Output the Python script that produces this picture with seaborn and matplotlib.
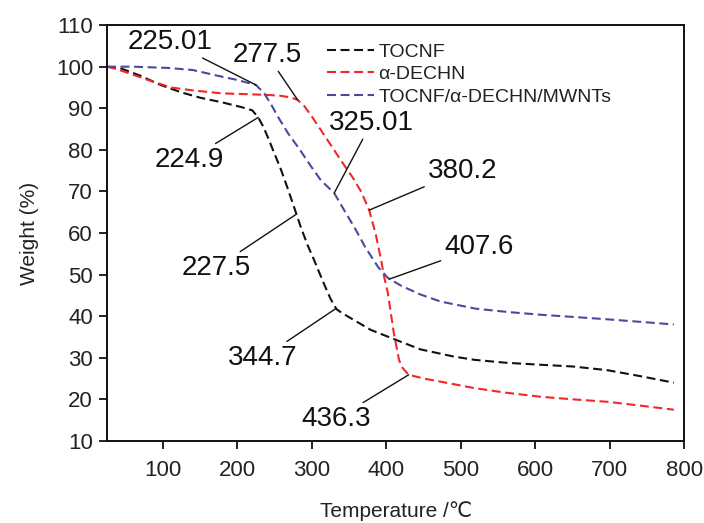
import matplotlib
matplotlib.use("Agg")
import matplotlib.pyplot as plt
import seaborn as sns

# TGA curves
temp_tocnf = [25, 42, 70, 97, 125, 151, 180, 205, 220, 228, 235, 241, 250, 258, 267,
              276, 285, 294, 303, 315, 325, 333, 340, 360, 379, 410, 446, 490, 518,
              560, 608, 650, 697, 740, 786]
weight_tocnf = [100, 99.7, 97.8, 95.6, 93.8, 92.5, 91.4, 90.3, 89.5, 87.8, 85.5, 83, 79,
                75.5, 71, 66.3, 61.5, 57.2, 53.5, 48.3, 44.2, 41.7, 40.8, 38.7, 36.7, 34.5,
                32, 30.3, 29.5, 28.8, 28.3, 27.9, 27, 25.6, 24]

temp_dechn = [25, 40, 61, 85, 111, 140, 178, 210, 241, 258, 272, 281, 290, 300, 312,
              326, 340, 355, 366, 377, 386, 393, 397, 402, 410, 417, 422, 430, 450,
              480, 518, 560, 608, 650, 697, 740, 786]
weight_dechn = [100, 99.3, 98, 96.5, 95, 94.3, 93.6, 93.4, 93.2, 93, 92.6, 92, 90.5, 88,
                84.8, 81, 77.2, 73.3, 70, 65.5, 59.5, 53.5, 49.5, 45.6, 36, 29.5, 27.5,
                25.9, 25, 24, 22.7, 21.6, 20.6, 20, 19.4, 18.5, 17.5]

temp_comp = [25, 60, 107, 140, 174, 200, 225, 236, 245, 256, 268, 284, 299, 312, 330,
             345, 357, 372, 389, 402, 420, 446, 473, 520, 563, 610, 652, 700, 786]
weight_comp = [100, 100, 99.7, 99.2, 97.8, 96.8, 95.6, 93.6, 91, 87.5, 84, 80, 76, 72.7,
               69.6, 65, 61.4, 56.5, 51.8, 49.2, 47.3, 45.2, 43.5, 41.8, 41, 40.3, 39.8,
               39.2, 38]

series_labels = ["TOCNF", "α-DECHN", "TOCNF/α-DECHN/MWNTs"]

# annotated onset / turning temperatures: label, point on curve, text position
notes = [
    ("225.01", (225, 95.6), (110, 106)),
    ("277.5", (281, 92), (240, 102.8)),
    ("224.9", (228, 87.8), (135, 77.6)),
    ("227.5", (279, 64.5), (171, 51.6)),
    ("344.7", (332, 41.8), (234, 30)),
    ("436.3", (430, 25.9), (333, 15.3)),
    ("325.01", (330, 69.6), (380, 86.5)),
    ("380.2", (377, 65.5), (502, 75)),
    ("407.6", (404, 48.9), (524, 56.6)),
]

sns.set_style("ticks")
plt.rcParams["font.family"] = ["Liberation Sans", "DejaVu Sans"]
txt_color = "#222222"

fig = plt.figure(figsize=(7.04, 5.23), dpi=100)
ax = fig.add_axes([0.152, 0.157, 0.820, 0.795])

dash = (0, (4.3, 2.2))
sns.lineplot(x=temp_tocnf, y=weight_tocnf, ax=ax, color="#111111", lw=1.5,
             linestyle=dash, label=series_labels[0], sort=False)
sns.lineplot(x=temp_dechn, y=weight_dechn, ax=ax, color="#f02828", lw=1.5,
             linestyle=dash, label=series_labels[1], sort=False)
sns.lineplot(x=temp_comp, y=weight_comp, ax=ax, color="#4a4a9c", lw=1.5,
             linestyle=dash, label=series_labels[2], sort=False)

for text, pt, pos in notes:
    ax.annotate(text, xy=pt, xytext=pos, ha="center", va="center",
                fontsize=20, color="#111111",
                arrowprops=dict(arrowstyle="-", color="#111111", lw=1.0,
                                shrinkA=0, shrinkB=0))

ax.set_xlim(25, 800)
ax.set_ylim(10, 110)
ax.set_xticks([100, 200, 300, 400, 500, 600, 700, 800])
ax.set_yticks(range(10, 111, 10))

for s in ax.spines.values():
    s.set_visible(True)
    s.set_linewidth(1.4)
    s.set_color("#111111")
ax.tick_params(direction="out", length=6, width=1.4, labelsize=16,
               colors=txt_color, pad=8)
ax.tick_params(axis="y", pad=4)

ax.set_xlabel("Temperature /℃", fontsize=15, color=txt_color, labelpad=14)
ax.set_ylabel("Weight (%)", fontsize=15, color=txt_color, labelpad=12)

ax.legend(loc="upper left", bbox_to_anchor=(0.381, 0.957), frameon=False,
          fontsize=14, handlelength=2.4, handletextpad=0.25,
          labelspacing=0.25, borderpad=0, borderaxespad=0, labelcolor=txt_color)

fig.savefig("out.png", dpi=100)
